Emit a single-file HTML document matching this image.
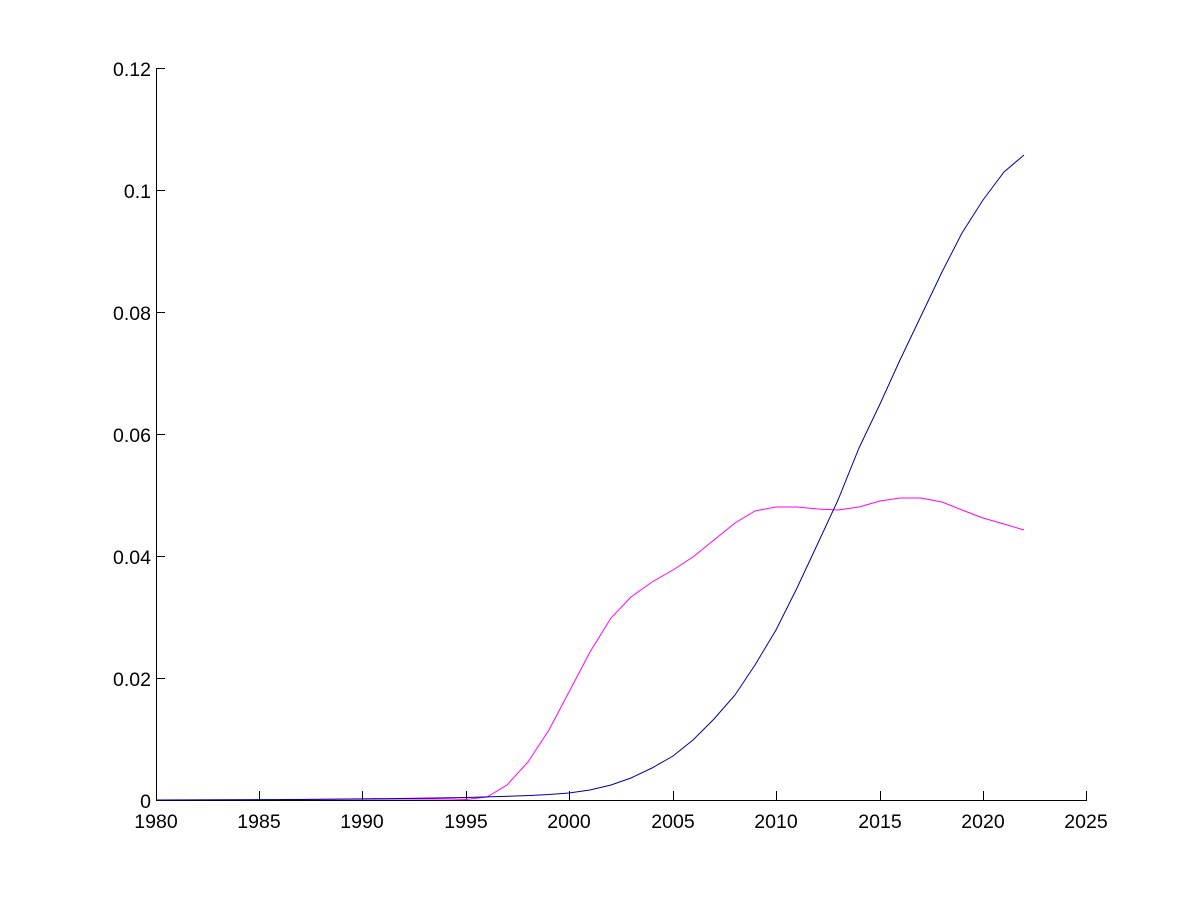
<!DOCTYPE html>
<html><head><meta charset="utf-8"><style>
html,body{margin:0;padding:0;background:#fff;}
svg{display:block;}
text{font-family:"Liberation Sans",Arial,sans-serif;font-size:19.5px;fill:#000;}
</style></head><body>
<svg width="1200" height="900" xmlns="http://www.w3.org/2000/svg">
<rect width="1200" height="900" fill="#fff"/>
<g stroke="#000" stroke-width="1" fill="none">
<line x1="156.5" y1="68" x2="156.5" y2="800.5"/>
<line x1="156" y1="800.5" x2="1087" y2="800.5"/>
<line x1="156" y1="68.5" x2="165" y2="68.5"/>
<line x1="156" y1="190.5" x2="165" y2="190.5"/>
<line x1="156" y1="312.5" x2="165" y2="312.5"/>
<line x1="156" y1="434.5" x2="165" y2="434.5"/>
<line x1="156" y1="556.5" x2="165" y2="556.5"/>
<line x1="156" y1="678.5" x2="165" y2="678.5"/>
<line x1="259.5" y1="800" x2="259.5" y2="791"/>
<line x1="362.5" y1="800" x2="362.5" y2="791"/>
<line x1="466.5" y1="800" x2="466.5" y2="791"/>
<line x1="569.5" y1="800" x2="569.5" y2="791"/>
<line x1="673.5" y1="800" x2="673.5" y2="791"/>
<line x1="776.5" y1="800" x2="776.5" y2="791"/>
<line x1="880.5" y1="800" x2="880.5" y2="791"/>
<line x1="983.5" y1="800" x2="983.5" y2="791"/>
<line x1="1086.5" y1="800" x2="1086.5" y2="791"/>
</g>
<g text-anchor="end">
<text x="151" y="76">0.12</text>
<text x="151" y="198">0.1</text>
<text x="151" y="320">0.08</text>
<text x="151" y="442">0.06</text>
<text x="151" y="564">0.04</text>
<text x="151" y="686">0.02</text>
<text x="151" y="808">0</text>
</g>
<g text-anchor="middle">
<text x="156" y="828">1980</text>
<text x="259" y="828">1985</text>
<text x="362" y="828">1990</text>
<text x="466" y="828">1995</text>
<text x="569" y="828">2000</text>
<text x="673" y="828">2005</text>
<text x="776" y="828">2010</text>
<text x="880" y="828">2015</text>
<text x="983" y="828">2020</text>
<text x="1086" y="828">2025</text>
</g>
<polyline fill="none" stroke="#ff00ff" stroke-width="1" points="280,799.5 400,799 450,799 466,799.5 487,797 507,785 528,762 549,730 569,692 590,652 611,618 631,597 652,582 673,570 693,557 714,540 735,523 755,511 776,507 797,507 818,509 838,510 859,507 880,501 900,498 921,498 942,502 962,510 983,518 1004,524 1024,530"/>
<polyline fill="none" stroke="#0000a0" stroke-width="1" points="156,800 300,799.5 400,798.5 466,797.5 500,796.5 530,795.5 549,794.5 569,793 590,790 611,785 631,778 652,768 673,756 693,740 714,719 735,695 755,665 776,630 797,588 818,543 838,500 859,448 880,404 900,360 921,316 942,272 962,233 983,200 1004,172 1024,155"/>
</svg>
</body></html>
